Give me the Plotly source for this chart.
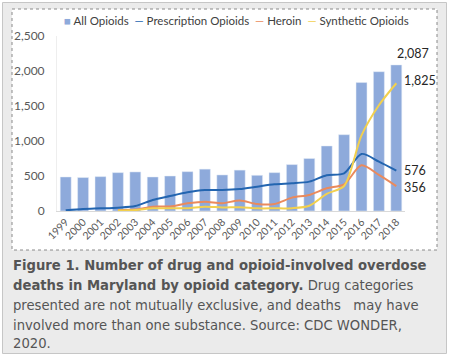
import plotly.graph_objects as go

years = [str(y) for y in range(1999, 2019)]
all_opioids = [486, 478, 491, 548, 558, 486, 500, 562, 598, 515, 584, 510, 548, 663, 750, 929, 1090, 1835, 1990, 2087]
prescription = [10, 29, 38, 48, 71, 157, 214, 268, 300, 300, 314, 348, 381, 396, 420, 512, 539, 815, 705, 576]
heroin = [None, None, None, 12, 20, 62, 65, 110, 133, 112, 150, 100, 100, 191, 229, 324, 381, 652, 515, 356]
synthetic = [None, None, None, 8, 15, 38, 40, 40, 62, 50, 55, 38, 38, 40, 75, 245, 357, 1080, 1510, 1825]

C_BAR = "#8eaadb"
C_PRES = "#2365b0"
C_HER = "#ea8a5c"
C_SYN = "#f2d04e"

W, H = 450, 360
L, R, T, B = 57, 45, 36, 149
PW, PH = W - L - R, H - T - B


def px(x):
    return (x - L) / PW


def py(y):
    return (H - B - y) / PH


fig = go.Figure()
fig.add_bar(x=years, y=all_opioids, marker_color=C_BAR, name="All Opioids")
fig.add_scatter(x=years, y=prescription, mode="lines", line=dict(color=C_PRES, width=2, shape="spline", smoothing=0.8), name="Prescription Opioids")
fig.add_scatter(x=years, y=heroin, mode="lines", line=dict(color=C_HER, width=2, shape="spline", smoothing=0.8), name="Heroin")
fig.add_scatter(x=years, y=synthetic, mode="lines", line=dict(color=C_SYN, width=2, shape="spline", smoothing=0.8), name="Synthetic Opioids")

shapes = [
    dict(type="rect", xref="paper", yref="paper", x0=px(2.5), x1=px(446.5), y0=py(2.5), y1=py(353.5),
         fillcolor="#ebebeb", line=dict(color="#c6c6c6", width=1), layer="below"),
    dict(type="rect", xref="paper", yref="paper", x0=px(12), x1=px(437), y0=py(9), y1=py(250),
         fillcolor="#ffffff", line=dict(color="#8a8a8a", width=1, dash="dot"), layer="below"),
]

annotations = []
legend_txt = (f'<span style="color:{C_BAR}">■</span> All Opioids  '
              f'<span style="color:{C_PRES}">—</span> Prescription Opioids  '
              f'<span style="color:{C_HER}">—</span> Heroin  '
              f'<span style="color:{C_SYN}">—</span> Synthetic Opioids')
annotations.append(dict(text=legend_txt, xref="paper", yref="paper", x=px(62), y=py(20), xanchor="left", yanchor="middle",
                        showarrow=False, font=dict(family="Lato", size=11.5, color="#404040")))

last = len(years) - 1
lab_font = dict(family="Lato", size=12.5, color="#262626")
annotations.append(dict(text="2,087", x=last, y=all_opioids[-1], xanchor="center", yanchor="bottom", xshift=17, yshift=2,
                        showarrow=False, font=lab_font))
annotations.append(dict(text="1,825", x=last, y=synthetic[-1], xanchor="left", yanchor="middle", xshift=6, yshift=3,
                        showarrow=False, font=lab_font))
annotations.append(dict(text="576", x=last, y=prescription[-1], xanchor="left", yanchor="middle", xshift=6, yshift=0,
                        showarrow=False, font=lab_font))
annotations.append(dict(text="356", x=last, y=heroin[-1], xanchor="left", yanchor="middle", xshift=6, yshift=-1,
                        showarrow=False, font=lab_font))

caption = [
    "<b>Figure 1. Number of drug and opioid-involved overdose</b>",
    "<b>deaths in Maryland by opioid category.</b> Drug categories",
    "presented are not mutually exclusive, and deaths &nbsp; may have",
    "involved more than one substance. Source: CDC WONDER,",
    "2020.",
]
cap_y = [265, 285, 305, 325, 343]
for t, yy in zip(caption, cap_y):
    annotations.append(dict(text=t, xref="paper", yref="paper", x=px(11), y=py(yy), xanchor="left", yanchor="middle",
                            showarrow=False, font=dict(family="DejaVu Sans", size=13.2, color="#555555")))

fig.update_layout(
    width=W, height=H,
    margin=dict(l=L, r=R, t=T, b=B, pad=0),
    paper_bgcolor="#ffffff",
    plot_bgcolor="rgba(0,0,0,0)",
    showlegend=False,
    bargap=0.37,
    shapes=shapes,
    annotations=annotations,
    font=dict(family="Lato", color="#595959"),
    xaxis=dict(type="category", range=[-0.5, last + 0.5], tickangle=-45, tickfont=dict(size=10.5, color="#595959"),
               showgrid=False, showline=True, linecolor="#d9d9d9", ticks="", ticklen=0),
    yaxis=dict(range=[0, 2500], dtick=500, tickformat=",", tickfont=dict(size=12, color="#595959"), showgrid=False,
               showline=True, linecolor="#eeeeee", ticks="", ticklabelstandoff=9, zeroline=False),
)

fig.write_html("out.html", config={"displayModeBar": False},
               post_script="document.body.style.margin='0';document.body.style.overflow='hidden';")
